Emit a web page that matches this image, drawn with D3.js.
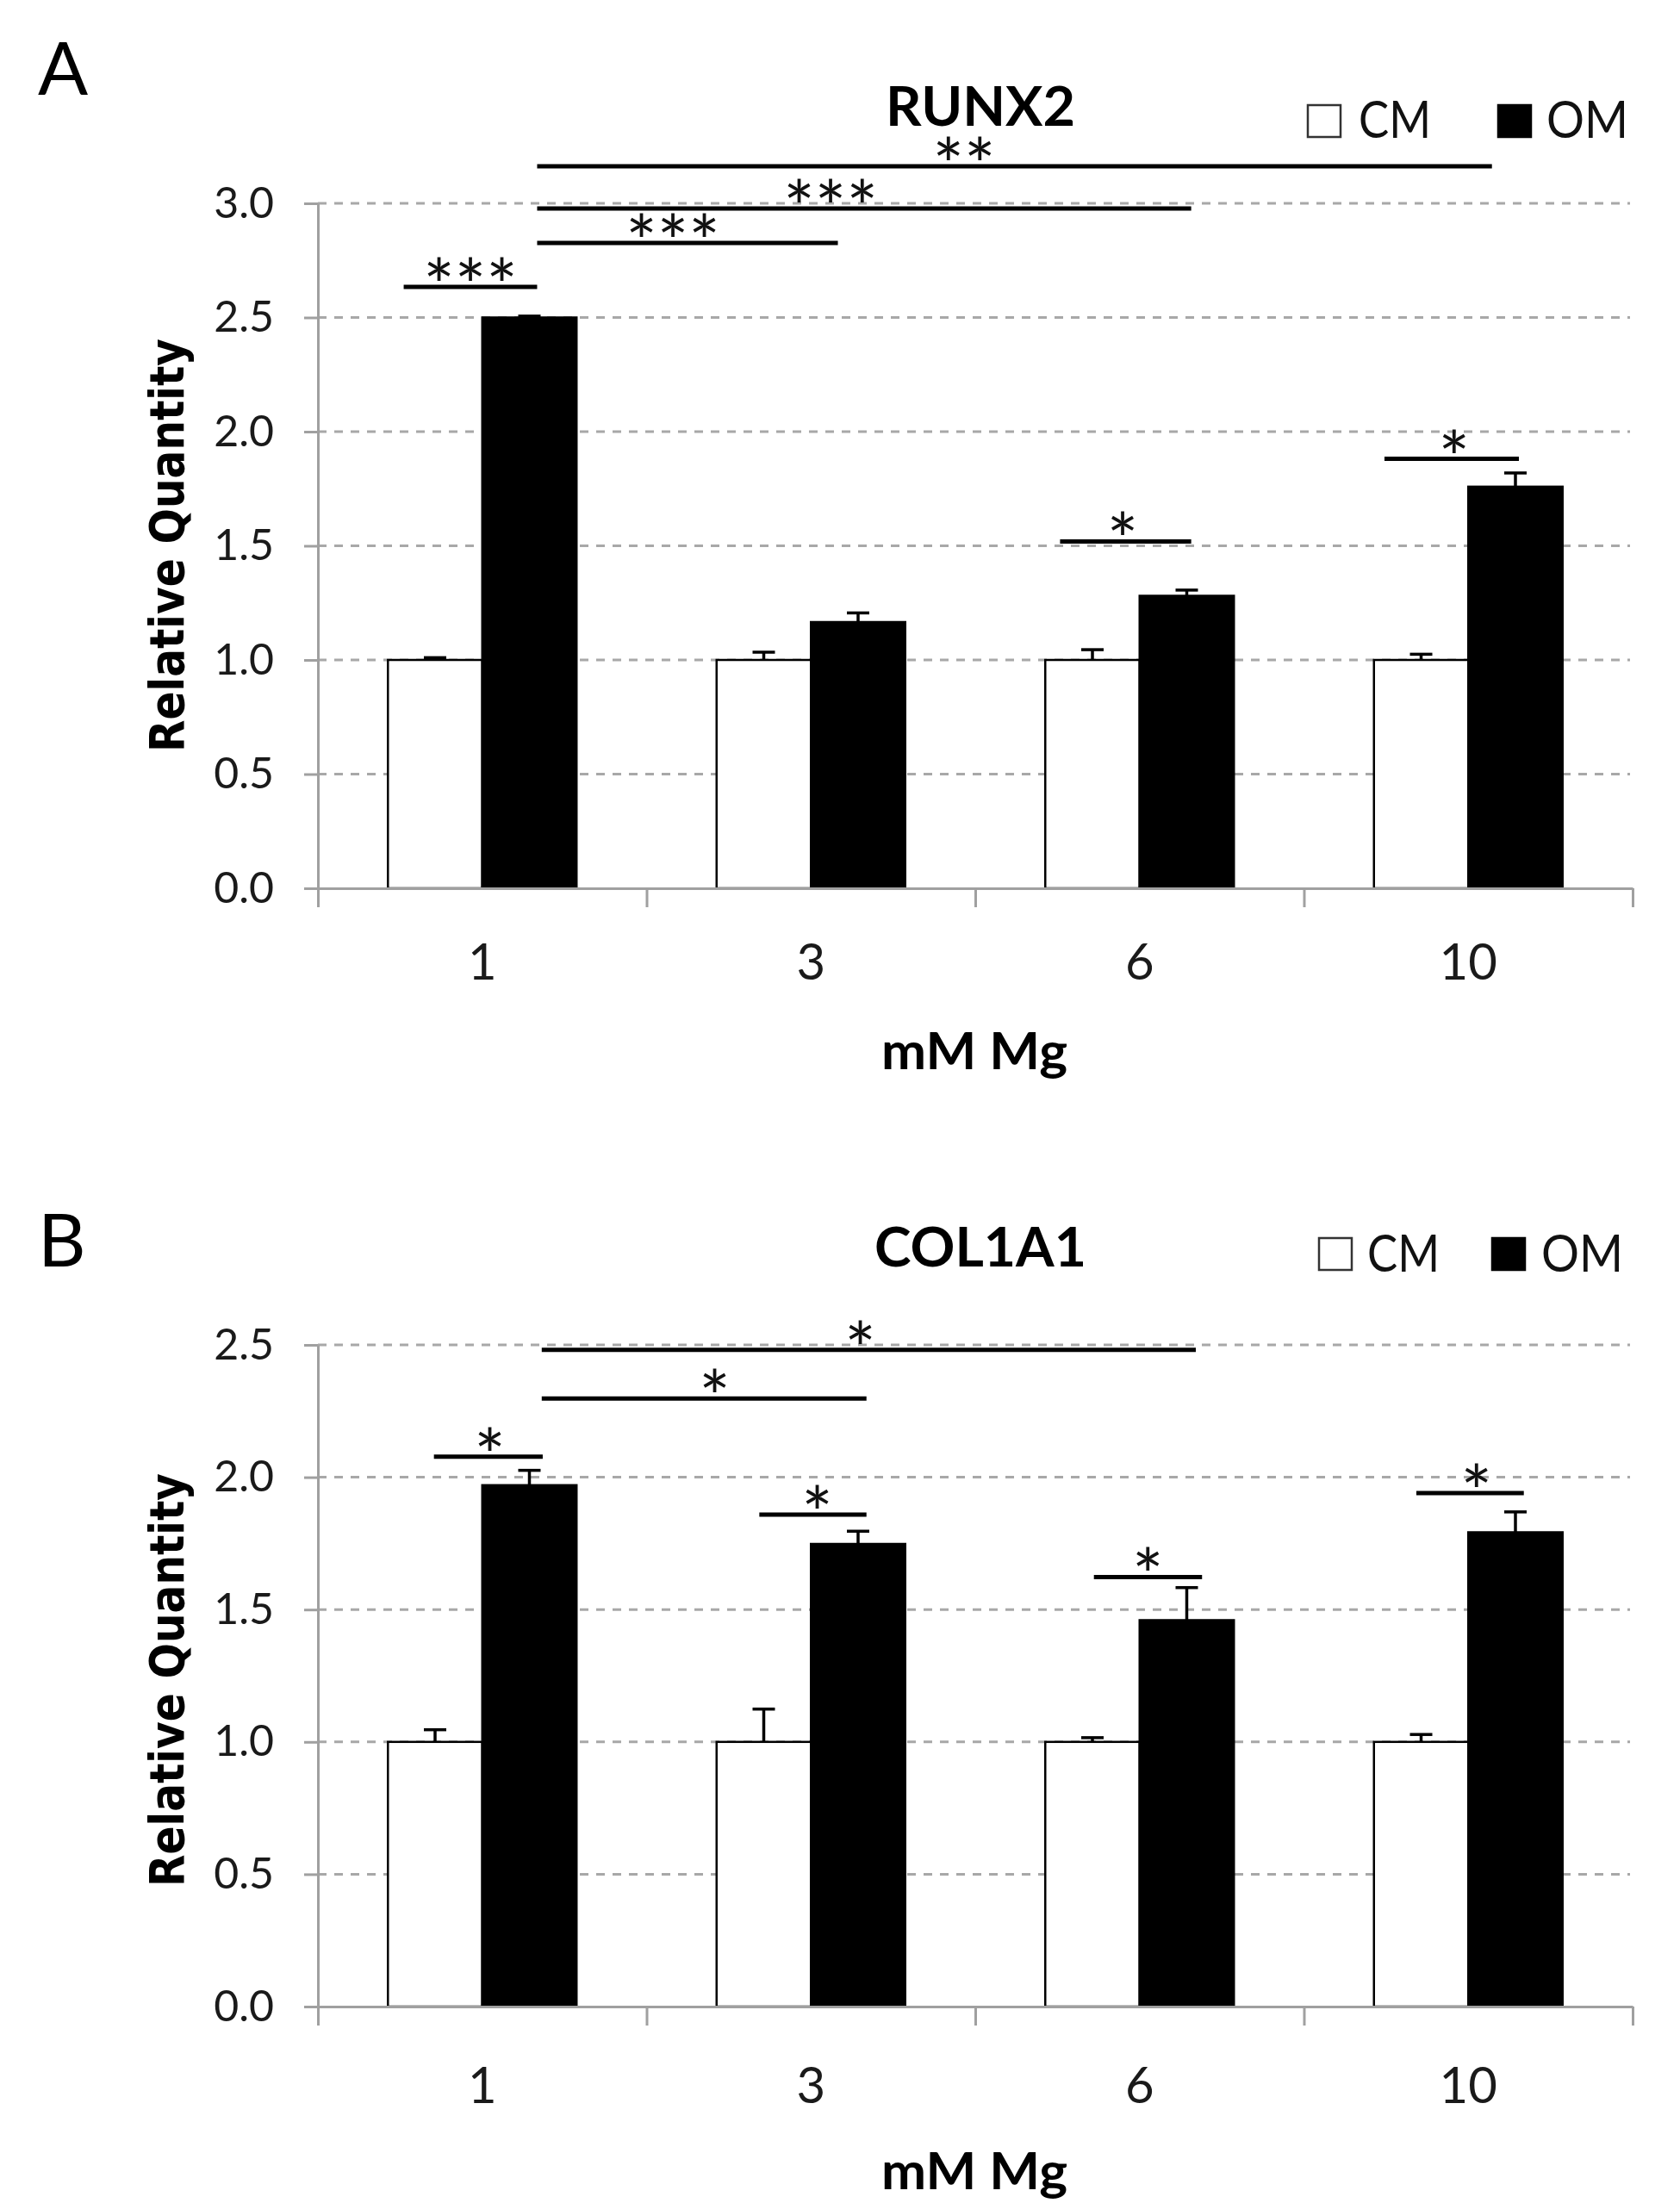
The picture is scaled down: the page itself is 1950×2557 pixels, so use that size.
<!DOCTYPE html>
<html>
<head>
<meta charset="utf-8">
<script src="https://cdn.jsdelivr.net/npm/d3@7"></script>
<style>
  html, body { margin: 0; padding: 0; background: #fff; }
  svg { display: block; }
</style>
</head>
<body>
<main></main>
<script>
// categories and series
const concentrations = ['1', '3', '6', '10']
const seriesNames = ['CM', 'OM']

// RUNX2 (panel A)
const runx2CM = [1.0, 1.0, 1.0, 1.0]
const runx2CMErr = [0.01, 0.034, 0.045, 0.025]
const runx2OM = [2.50, 1.166, 1.281, 1.759]
const runx2OMErr = [0.006, 0.04, 0.025, 0.06]
const runx2Ticks = [0, 0.5, 1.0, 1.5, 2.0, 2.5, 3.0]
// brackets: x in category-index units, y in data units
const runx2Sig = [
  { label: '***', x1: -0.239, x2: 0.167, y: 2.634, tx: -0.036 },
  { label: '***', x1: 0.167, x2: 1.082, y: 2.826, tx: 0.58 },
  { label: '***', x1: 0.167, x2: 2.157, y: 2.977, tx: 1.06 },
  { label: '**', x1: 0.167, x2: 3.072, y: 3.162, tx: 1.466 },
  { label: '*', x1: 1.758, x2: 2.157, y: 1.519, tx: 1.948 },
  { label: '*', x1: 2.745, x2: 3.154, y: 1.881, tx: 2.957 }
]

// COL1A1 (panel B)
const col1a1CM = [1.0, 1.0, 1.0, 1.0]
const col1a1CMErr = [0.046, 0.124, 0.016, 0.028]
const col1a1OM = [1.970, 1.748, 1.460, 1.792]
const col1a1OMErr = [0.056, 0.048, 0.123, 0.077]
const col1a1Ticks = [0, 0.5, 1.0, 1.5, 2.0, 2.5]
const col1a1Sig = [
  { label: '*', x1: -0.147, x2: 0.184, y: 2.078, tx: 0.023 },
  { label: '*', x1: 0.181, x2: 1.169, y: 2.297, tx: 0.707 },
  { label: '*', x1: 0.181, x2: 2.171, y: 2.481, tx: 1.15 },
  { label: '*', x1: 0.843, x2: 1.169, y: 1.859, tx: 1.019 },
  { label: '*', x1: 1.861, x2: 2.19, y: 1.623, tx: 2.025 },
  { label: '*', x1: 2.842, x2: 3.169, y: 1.940, tx: 3.025 }
]

const W = 1950
const H = 2557
const FONT = 'Lato, "Open Sans", sans-serif'
const GRAY = '#a0a0a0'

const svg = d3.select('main')
  .append('svg')
  .attr('width', W)
  .attr('height', H)
  .attr('viewBox', `0,0,${W},${H}`)

const panels = [
  {
    letter: 'A', title: 'RUNX2', titleLen: 220,
    cm: runx2CM, cmErr: runx2CMErr, om: runx2OM, omErr: runx2OMErr,
    ticks: runx2Ticks, sig: runx2Sig,
    yBottom: 1031, yTop: 236, letterY: 110, titleY: 146,
    legendY: 122, legendTextY: 160, cmSq: 1518, cmText: 1577, omSq: 1739, omText: 1795,
    labelY: 1137, xTitleY: 1241, yTitleCenter: 633
  },
  {
    letter: 'B', title: 'COL1A1', titleLen: 246,
    cm: col1a1CM, cmErr: col1a1CMErr, om: col1a1OM, omErr: col1a1OMErr,
    ticks: col1a1Ticks, sig: col1a1Sig,
    yBottom: 2329, yTop: 1561, letterY: 1470, titleY: 1470,
    legendY: 1437, legendTextY: 1476, cmSq: 1531, cmText: 1587, omSq: 1732, omText: 1789,
    labelY: 2441, xTitleY: 2541, yTitleCenter: 1950
  }
]

const xLeft = 369
const xRight = 1895

panels.forEach(p => drawPanel(p))

function drawPanel (p) {
  const g = svg.append('g')
  const x = d3.scaleBand()
    .domain(concentrations)
    .range([xLeft, xRight])
    .padding(0)
  const bw = x.bandwidth()
  const xs = d3.scaleBand()
    .domain(seriesNames)
    .range([-0.287 * bw, 0.287 * bw])
  // category-index units -> px (index i sits at band centre)
  const xIdx = d3.scaleLinear()
    .domain([-0.5, concentrations.length - 0.5])
    .range([xLeft, xRight])
  const yMax = p.ticks[p.ticks.length - 1]
  const y = d3.scaleLinear()
    .domain([0, yMax])
    .range([p.yBottom, p.yTop])

  // gridlines
  g.append('g')
    .selectAll('line')
    .data(p.ticks.filter(t => t > 0))
    .enter()
    .append('line')
    .attr('x1', xLeft)
    .attr('x2', xRight - 3)
    .attr('y1', d => y(d))
    .attr('y2', d => y(d))
    .attr('stroke', '#a8a8a8')
    .attr('stroke-width', 3)
    .attr('stroke-dasharray', '10,9')

  // bars
  const rows = concentrations.map((c, i) => ({
    c,
    vals: [
      { s: 'CM', v: p.cm[i], e: p.cmErr[i] },
      { s: 'OM', v: p.om[i], e: p.omErr[i] }
    ]
  }))
  const groups = g.selectAll('.grp')
    .data(rows)
    .enter()
    .append('g')
    .attr('class', 'grp')
    .attr('transform', d => `translate(${x(d.c) + bw / 2},0)`)
  groups.selectAll('rect')
    .data(d => d.vals)
    .enter()
    .append('rect')
    .attr('x', d => xs(d.s))
    .attr('width', xs.bandwidth())
    .attr('y', d => y(d.v))
    .attr('height', d => y(0) - y(d.v))
    .attr('fill', d => d.s === 'CM' ? '#fff' : '#000')
    .attr('stroke', '#000')
    .attr('stroke-width', 2.5)
  // error bars (upper only)
  const err = groups.selectAll('.err')
    .data(d => d.vals)
    .enter()
    .append('g')
    .attr('class', 'err')
    .attr('transform', d => `translate(${xs(d.s) + xs.bandwidth() / 2},0)`)
  err.append('line')
    .attr('x1', 0)
    .attr('x2', 0)
    .attr('y1', d => y(d.v))
    .attr('y2', d => y(d.v + d.e))
    .attr('stroke', '#000')
    .attr('stroke-width', 3.5)
  err.append('line')
    .attr('x1', -13)
    .attr('x2', 13)
    .attr('y1', d => y(d.v + d.e))
    .attr('y2', d => y(d.v + d.e))
    .attr('stroke', '#000')
    .attr('stroke-width', 3.5)

  // y axis
  const yAxis = g.append('g')
    .attr('transform', `translate(${xLeft},0)`)
    .call(d3.axisLeft(y)
      .tickValues(p.ticks)
      .tickSize(16)
      .tickSizeOuter(0)
      .tickPadding(35)
      .tickFormat(d3.format('.1f')))
  yAxis.select('.domain').attr('stroke', GRAY).attr('stroke-width', 3)
  yAxis.selectAll('.tick line').attr('stroke', GRAY).attr('stroke-width', 3)
  yAxis.selectAll('.tick text')
    .attr('fill', '#1a1a1a')
    .style('font-family', FONT)
    .style('font-size', '50px')

  // x axis: line with ticks at the category boundaries
  const xAxis = g.append('g')
    .attr('transform', `translate(0,${y(0)})`)
    .call(d3.axisBottom(xIdx)
      .tickValues(d3.range(concentrations.length + 1).map(i => i - 0.5))
      .tickSize(22)
      .tickSizeOuter(0)
      .tickFormat(''))
  xAxis.select('.domain').attr('stroke', GRAY).attr('stroke-width', 3)
  xAxis.selectAll('.tick line').attr('stroke', GRAY).attr('stroke-width', 3)

  // category labels
  g.append('g')
    .selectAll('text')
    .data(concentrations)
    .enter()
    .append('text')
    .attr('x', d => x(d) + bw / 2)
    .attr('y', p.labelY)
    .attr('text-anchor', 'middle')
    .attr('fill', '#1a1a1a')
    .style('font-family', FONT)
    .style('font-size', '58px')
    .text(d => d)

  // significance brackets
  const sig = g.append('g')
    .selectAll('g')
    .data(p.sig)
    .enter()
    .append('g')
  sig.append('line')
    .attr('x1', d => xIdx(d.x1))
    .attr('x2', d => xIdx(d.x2))
    .attr('y1', d => y(d.y))
    .attr('y2', d => y(d.y))
    .attr('stroke', '#000')
    .attr('stroke-width', 5)
  sig.append('text')
    .attr('x', d => xIdx(d.tx))
    .attr('y', d => y(d.y) + 30)
    .attr('text-anchor', 'middle')
    .attr('fill', '#111')
    .style('font-family', FONT)
    .style('font-size', '86px')
    .text(d => d.label)

  // panel letter
  g.append('text')
    .attr('x', 44)
    .attr('y', p.letterY)
    .attr('fill', '#000')
    .style('font-family', FONT)
    .style('font-size', '86px')
    .text(p.letter)

  // title
  g.append('text')
    .attr('x', 1138)
    .attr('y', p.titleY)
    .attr('text-anchor', 'middle')
    .attr('textLength', p.titleLen)
    .attr('lengthAdjust', 'spacingAndGlyphs')
    .attr('fill', '#000')
    .style('font-family', FONT)
    .style('font-weight', 700)
    .style('font-size', '63px')
    .text(p.title)

  // legend
  const leg = [
    { name: seriesNames[0], sq: p.cmSq, tx: p.cmText, fill: '#fff', len: 84 },
    { name: seriesNames[1], sq: p.omSq, tx: p.omText, fill: '#000', len: 95 }
  ]
  const lg = g.append('g')
    .selectAll('g')
    .data(leg)
    .enter()
    .append('g')
  lg.append('rect')
    .attr('x', d => d.sq)
    .attr('y', p.legendY)
    .attr('width', 38)
    .attr('height', 37)
    .attr('fill', d => d.fill)
    .attr('stroke', d => d.fill === '#000' ? '#000' : '#333')
    .attr('stroke-width', 2.5)
  lg.append('text')
    .attr('x', d => d.tx)
    .attr('y', p.legendTextY)
    .attr('textLength', d => d.len)
    .attr('lengthAdjust', 'spacingAndGlyphs')
    .attr('fill', '#111')
    .style('font-family', FONT)
    .style('font-size', '60px')
    .text(d => d.name)

  // axis titles
  g.append('text')
    .attr('x', 1131)
    .attr('y', p.xTitleY)
    .attr('text-anchor', 'middle')
    .attr('textLength', 216)
    .attr('lengthAdjust', 'spacingAndGlyphs')
    .attr('fill', '#000')
    .style('font-family', FONT)
    .style('font-weight', 700)
    .style('font-size', '60px')
    .text('mM Mg')
  g.append('text')
    .attr('transform', `translate(213,${p.yTitleCenter}) rotate(-90)`)
    .attr('text-anchor', 'middle')
    .attr('textLength', 480)
    .attr('lengthAdjust', 'spacingAndGlyphs')
    .attr('fill', '#000')
    .style('font-family', '"DejaVu Sans", Verdana, sans-serif')
    .style('font-weight', 700)
    .style('font-size', '56px')
    .text('Relative Quantity')
}
</script>
</body>
</html>
